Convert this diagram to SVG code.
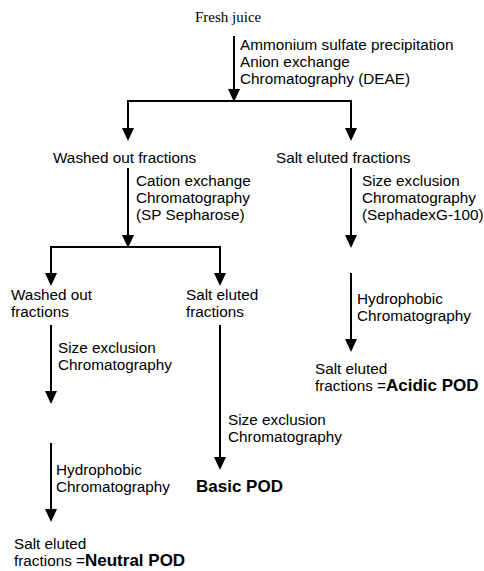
<svg xmlns="http://www.w3.org/2000/svg" width="484" height="571" viewBox="0 0 484 571">
<style>
text{font-family:"Liberation Sans",Arial,sans-serif;font-size:15.3px;fill:#000}
.serif{font-family:"Liberation Serif","Times New Roman",serif;font-size:15px}
.b{font-weight:bold;font-size:17px}
.ln{stroke:#000;stroke-width:2;fill:none}
.ah{fill:#000}
</style>
<rect width="484" height="571" fill="#fff"/>
<g id="connectors">
<path class="ln" d="M234,36 V89"/><path class="ah" d="M228,89 h12 l-6,13 z"/>
<path class="ln" d="M127,101 H352"/>
<path class="ln" d="M128,101 V128"/><path class="ah" d="M122,128 h12 l-6,13 z"/>
<path class="ln" d="M351,101 V128"/><path class="ah" d="M345,128 h12 l-6,13 z"/>
<path class="ln" d="M128,168 V236"/><path class="ah" d="M122,235 h12 l-6,13 z"/>
<path class="ln" d="M50,247 H221"/>
<path class="ln" d="M51,247 V274"/><path class="ah" d="M45,273 h12 l-6,13 z"/>
<path class="ln" d="M220,247 V274"/><path class="ah" d="M214,273 h12 l-6,13 z"/>
<path class="ln" d="M351,168 V236"/><path class="ah" d="M345,235 h12 l-6,13 z"/>
<path class="ln" d="M351,273 V340"/><path class="ah" d="M345,339 h12 l-6,13 z"/>
<path class="ln" d="M51,325 V392"/><path class="ah" d="M45,391 h12 l-6,13 z"/>
<path class="ln" d="M220,325 V458"/><path class="ah" d="M214,457 h12 l-6,13 z"/>
<path class="ln" d="M51,443 V510"/><path class="ah" d="M45,509 h12 l-6,13 z"/>
</g>
<g id="fresh-juice"><text class="serif" x="195" y="22">Fresh juice</text></g>
<g id="step1-label"><text x="240" y="50">Ammonium sulfate precipitation</text><text x="240" y="67">Anion exchange</text><text x="240" y="84">Chromatography (DEAE)</text></g>
<g id="washed-out-1"><text x="53" y="163">Washed out fractions</text></g>
<g id="salt-eluted-1"><text x="276" y="163">Salt eluted fractions</text></g>
<g id="cation-label"><text x="136" y="186">Cation exchange</text><text x="136" y="203">Chromatography</text><text x="136" y="220">(SP Sepharose)</text></g>
<g id="size-excl-right"><text x="362" y="186">Size exclusion</text><text x="362" y="203">Chromatography</text><text x="362" y="220">(SephadexG-100)</text></g>
<g id="hydro-right"><text x="357" y="304">Hydrophobic</text><text x="357" y="321">Chromatography</text></g>
<g id="acidic-pod"><text x="315" y="374">Salt eluted</text><text x="315" y="391">fractions =<tspan class="b">Acidic POD</tspan></text></g>
<g id="washed-out-2"><text x="11" y="300">Washed out</text><text x="11" y="317">fractions</text></g>
<g id="salt-eluted-2"><text x="186" y="300">Salt eluted</text><text x="186" y="317">fractions</text></g>
<g id="size-excl-left"><text x="58" y="353">Size exclusion</text><text x="58" y="370">Chromatography</text></g>
<g id="size-excl-mid"><text x="228" y="425">Size exclusion</text><text x="228" y="442">Chromatography</text></g>
<g id="basic-pod"><text class="b" x="196" y="492">Basic POD</text></g>
<g id="hydro-left"><text x="56" y="475">Hydrophobic</text><text x="56" y="492">Chromatography</text></g>
<g id="neutral-pod"><text x="14" y="549">Salt eluted</text><text x="14" y="566">fractions =<tspan class="b">Neutral POD</tspan></text></g>
</svg>
